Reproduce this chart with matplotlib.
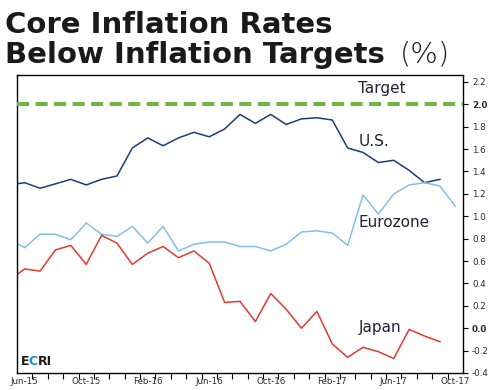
import numpy as np
import pandas as pd
import matplotlib
matplotlib.use("Agg")
import matplotlib.pyplot as plt
from matplotlib.transforms import offset_copy

# monthly data, May-15 .. Oct-17 (May-15 only shows as the clipped start of each line)
months = pd.date_range("2015-05-01", "2017-10-01", freq="MS")

us = [1.28, 1.30, 1.25, 1.29, 1.33, 1.28, 1.33, 1.36, 1.61, 1.70, 1.63, 1.70,
      1.75, 1.71, 1.78, 1.91, 1.83, 1.91, 1.82, 1.87, 1.88, 1.86, 1.61, 1.57,
      1.48, 1.50, 1.41, 1.30, 1.33, np.nan]
eurozone = [0.79, 0.72, 0.84, 0.84, 0.79, 0.94, 0.84, 0.82, 0.91, 0.76, 0.91, 0.69,
            0.75, 0.77, 0.77, 0.73, 0.73, 0.69, 0.75, 0.86, 0.87, 0.85, 0.74, 1.19,
            1.02, 1.20, 1.28, 1.30, 1.27, 1.09]
japan = [0.43, 0.53, 0.51, 0.70, 0.74, 0.57, 0.83, 0.76, 0.57, 0.67, 0.73, 0.63,
         0.69, 0.58, 0.23, 0.24, 0.06, 0.31, 0.17, 0.00, 0.15, -0.14, -0.26, -0.17,
         -0.21, -0.27, -0.01, -0.07, -0.12, np.nan]
target = 2.0

label_months = ["Jun-15", "Oct-15", "Feb-16", "Jun-16", "Oct-16", "Feb-17", "Jun-17", "Oct-17"]
y_ticks = np.round(np.arange(-0.4, 2.21, 0.2), 1)

W, H = 495, 390
fig = plt.figure(figsize=(W / 100, H / 100), dpi=100)
ax = fig.add_axes([17 / W, 1 - 373 / H, (463 - 17) / W, (373 - 75) / H])

x = np.arange(len(months)) - 1  # Jun-15 -> 0

ax.axhline(target, color="#6cb843", lw=2.9, dashes=(3, 1.6), zorder=3)
ax.plot(x, us, color="#1d3d78", lw=1.1)
ax.plot(x, eurozone, color="#82c0e6", lw=1.1)
ax.plot(x, japan, color="#e5392f", lw=1.1)

ax.set_xlim(-0.5, 28.5)
ax.set_ylim(-0.4, 2.262)

# month boundaries as ticks, labels centred in the month
ax.set_xticks(np.arange(0.5, 28.5, 1))
ax.set_xticklabels([])
ax.set_xticks(np.arange(0, 29, 4), minor=True)
ax.set_xticklabels(label_months, minor=True)
ax.tick_params(axis="x", which="major", length=4.5, width=0.8, direction="out")
ax.tick_params(axis="x", which="minor", length=0, pad=3, labelsize=6.3,
               labelcolor="#2b2b3a")

ax.yaxis.tick_right()
ax.set_yticks(y_ticks)
ax.set_yticklabels([f"{v:.1f}" for v in y_ticks])
ax.tick_params(axis="y", length=3.5, width=0.8, direction="out", pad=3,
               labelsize=6.3, labelcolor="#2b2b3a")
for t in ax.get_yticklabels():
    if t.get_text() in ("2.0", "0.0"):
        t.set_fontweight("bold")

for s in ax.spines.values():
    s.set_linewidth(1.0)
    s.set_color("black")

# series labels
lab = dict(fontsize=11, color="#222233", va="center", ha="left")
ax.text(21.7, 2.14, "Target", **lab)
ax.text(21.7, 1.67, "U.S.", **lab)
ax.text(21.7, 0.94, "Eurozone", **lab)
ax.text(21.7, 0.01, "Japan", **lab)

# ECRI logo, letters placed one after another
fig.canvas.draw()
r = fig.canvas.get_renderer()
tr = ax.transData
xpos = 0
for ch, col in [("E", "#1a1a1a"), ("C", "#1a8fd6"), ("RI", "#1a1a1a")]:
    t = ax.text(-0.25, -0.30, ch, fontsize=9, fontweight="bold", color=col,
                va="center", transform=offset_copy(tr, fig=fig, x=xpos, units="dots"))
    xpos += t.get_window_extent(r).width - 0.5

# title
tfont = dict(fontsize=21, color="#1a1a1a", fontweight="bold", va="baseline")
fig.text(5 / W, 1 - 33 / H, "Core Inflation Rates", **tfont)
fig.text(5 / W, 1 - 63 / H, "Below Inflation Targets", **tfont)
fig.text(400 / W, 1 - 63 / H, "(%)", fontsize=21, color="#1a1a1a",
         fontweight="light", va="baseline")

fig.savefig("out.png", dpi=100)
